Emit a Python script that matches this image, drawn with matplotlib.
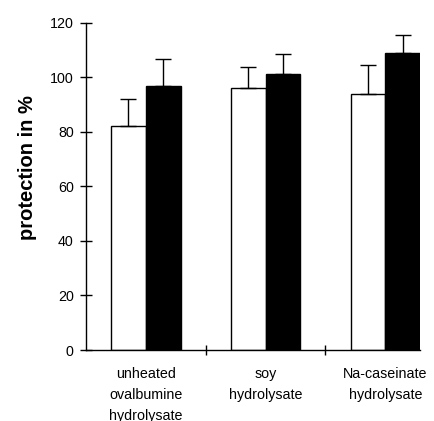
import matplotlib.pyplot as plt
import numpy as np

plt.rcParams["font.family"] = ["Liberation Sans", "DejaVu Sans"]

categories = ["unheated\novalbumine\nhydrolysate", "soy\nhydrolysate", "Na-caseinate\nhydrolysate"]
open_means = [82, 96, 94]
open_err = [10.2, 7.8, 10.4]
filled_means = [97, 101.3, 109.1]
filled_err = [9.8, 7.4, 6.3]
y_ticks = [0, 20, 40, 60, 80, 100, 120]


def main() -> None:
    fig = plt.figure(figsize=(4.34, 4.21), dpi=100)
    ax = fig.add_axes([0.198, 0.1686, 0.77, 0.777])

    x = np.arange(len(categories))
    width = 0.29
    err_kw = dict(ecolor="black", elinewidth=1.0, capsize=5.5, capthick=1.0)

    ax.bar(x - width / 2, open_means, width, color="white", edgecolor="black",
           linewidth=1.0, yerr=[np.zeros(len(open_err)), open_err], error_kw=err_kw)
    ax.bar(x + width / 2, filled_means, width, color="black", edgecolor="black",
           linewidth=1.0, yerr=[np.zeros(len(filled_err)), filled_err], error_kw=err_kw)

    ax.set_xlim(-0.5, x[-1] + width)
    ax.set_ylim(0, 120)
    ax.set_yticks(y_ticks)
    ax.set_ylabel("protection in %", fontsize=14.5, fontweight="bold")
    ax.yaxis.set_label_coords(-0.145, 0.557)

    # group separators as major ticks, category names as minor labels
    ax.set_xticks(x[:-1] + 0.5)
    ax.set_xticklabels([])
    ax.set_xticks(x, minor=True)
    ax.set_xticklabels(categories, minor=True, fontsize=10.3, linespacing=1.66)
    ax.tick_params(axis="x", which="minor", length=0, pad=12)
    ax.tick_params(axis="x", which="major", direction="inout", length=7, width=1)
    ax.tick_params(axis="y", direction="inout", length=8.6, width=1, labelsize=10.3, pad=4.5)

    for side in ("top", "right"):
        ax.spines[side].set_visible(False)
    for side in ("left", "bottom"):
        ax.spines[side].set_linewidth(1.0)

    fig.savefig("out.png", dpi=100)
    plt.close(fig)


if __name__ == "__main__":
    main()
